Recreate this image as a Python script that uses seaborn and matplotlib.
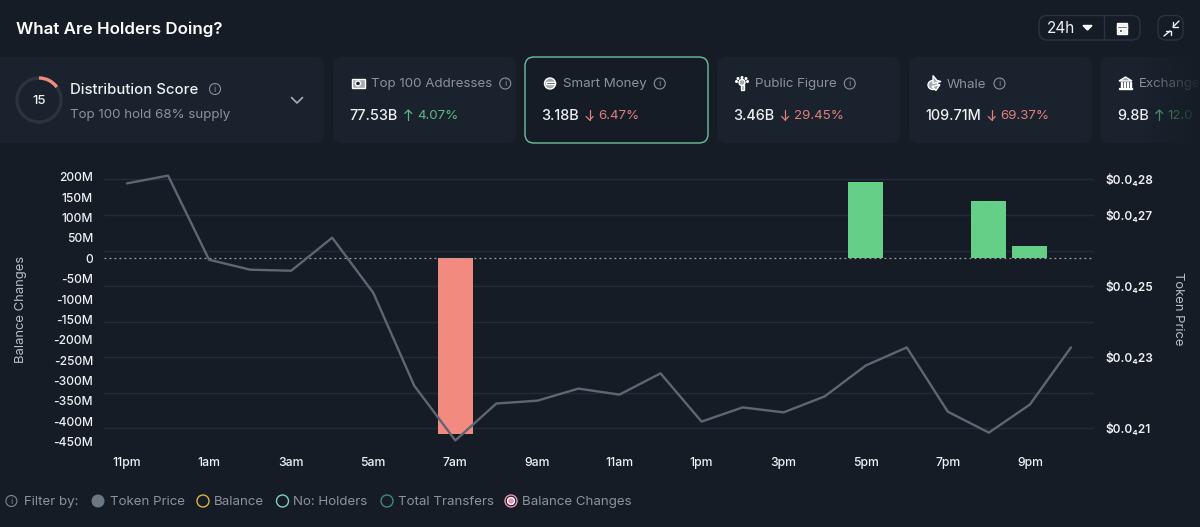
import numpy as np
import pandas as pd
import seaborn as sns
import matplotlib
matplotlib.use("Agg")
import matplotlib.pyplot as plt
from matplotlib.patches import FancyBboxPatch, Rectangle, Circle, Arc, Polygon, Ellipse

# ---------- data ----------
hours = list(range(24))
hour_labels = ["11pm", "1am", "3am", "5am", "7am", "9am", "11am", "1pm", "3pm", "5pm", "7pm", "9pm"]
price = [0.2789, 0.2811, 0.2574, 0.2546, 0.2543, 0.2636, 0.2481, 0.2219, 0.2065, 0.2169,
         0.2177, 0.2211, 0.2194, 0.2254, 0.2118, 0.2158, 0.2144, 0.2189, 0.2276, 0.2327,
         0.2146, 0.2087, 0.2166, 0.2327]
balance_change = [0, 0, 0, 0, 0, 0, 0, 0, -431, 0, 0, 0, 0, 0, 0, 0, 0, 0, 187, 0, 0, 140, 30, 0]
left_ticks = [200, 150, 100, 50, 0, -50, -100, -150, -200, -250, -300, -350, -400, -450]
price_ticks = [0.21, 0.22, 0.23, 0.24, 0.25, 0.26, 0.27, 0.28]
price_labels = ["$0.0₄21", "", "$0.0₄23", "", "$0.0₄25", "", "$0.0₄27", "$0.0₄28"]
cards = [
    ("Top 100 Addresses", "77.53B", "4.07%", True),
    ("Smart Money", "3.18B", "6.47%", False),
    ("Public Figure", "3.46B", "29.45%", False),
    ("Whale", "109.71M", "69.37%", False),
    ("Exchange", "9.8B", "12.0", True),
]
filters = ["Token Price", "Balance", "No: Holders", "Total Transfers", "Balance Changes"]

# ---------- style ----------
BG = "#151c26"; CARD = "#19222d"; GRID = "#1f2c3b"; WHITE = "#eef0f2"; MUTED = "#8b929b"
GREEN = "#66cf87"; RED = "#f28a80"; LINE = "#5d6671"; ICON = "#a5abb2"
sns.set_theme(style="dark", rc={"figure.facecolor": BG, "axes.facecolor": "none", "savefig.facecolor": BG})
plt.rcParams["font.family"] = ["Inter", "DejaVu Sans"]

W, H = 1200, 527
fig = plt.figure(figsize=(W / 100, H / 100), dpi=100)
ui = fig.add_axes([0, 0, 1, 1], zorder=0)
ui.set_xlim(0, W); ui.set_ylim(H, 0); ui.axis("off")

def box(x0, y0, x1, y1, r=8, fc=CARD, ec="none", lw=1, **kw):
    p = FancyBboxPatch((x0 + r, y0 + r), x1 - x0 - 2 * r, y1 - y0 - 2 * r,
                       boxstyle=f"round,pad={r},rounding_size={r}", fc=fc, ec=ec, lw=lw, **kw)
    ui.add_patch(p); return p

def info(x, y, c=MUTED, r=5.5):
    ui.add_patch(Circle((x, y), r, fc="none", ec=c, lw=0.8))
    ui.text(x, y + 0.3, "i", color=c, fontsize=6.5, ha="center", va="center")

def arrow(x, y, up, c):
    d = -1 if up else 1
    ui.plot([x, x], [y - 5 * d, y + 5 * d], color=c, lw=0.9)
    ui.plot([x - 3.5, x, x + 3.5], [y + 1.5 * d, y + 5 * d, y + 1.5 * d], color=c, lw=0.9)

def icon(i, x, y):
    if i == 0:      # banknotes
        ui.add_patch(Rectangle((x - 6.5, y - 4.5), 13, 9, fc=ICON))
        ui.add_patch(Circle((x, y), 2.5, fc=CARD))
    elif i == 1:    # face with sunglasses
        ui.add_patch(Circle((x, y), 5.5, fc=ICON))
        ui.add_patch(Rectangle((x - 4.5, y - 2), 9, 2.6, fc=BG))
    elif i == 2:    # person with rays
        ui.add_patch(Circle((x, y - 1), 3, fc=ICON))
        ui.add_patch(Rectangle((x - 1.5, y + 1), 3, 5, fc=ICON))
        for dx, dy in [(-5.5, -2), (-4, -5), (0, -6), (4, -5), (5.5, -2)]:
            ui.add_patch(Circle((x + dx, y + dy), 0.8, fc=ICON))
    elif i == 3:    # whale
        ui.add_patch(Ellipse((x - 1, y + 1.5), 10, 9, fc=ICON))
        ui.add_patch(Polygon([[x - 1, y - 8], [x + 3, y - 3], [x + 7, y - 2], [x - 1, y]], fc=ICON))
        ui.add_patch(Polygon([[x + 6, y + 1], [x + 2, y + 7], [x - 2, y + 3]], fc=ICON))
    else:           # bank
        ui.add_patch(Polygon([[x - 6.5, y - 2.5], [x, y - 6.5], [x + 6.5, y - 2.5]], fc=ICON))
        for dx in (-4.5, -1.3, 1.8, 4.5):
            ui.add_patch(Rectangle((x + dx - 0.5, y - 1.5), 1.1, 5, fc=ICON))
        ui.add_patch(Rectangle((x - 6.5, y + 4.5), 13, 1.3, fc=ICON))

# header
ui.text(16, 29, "What Are Holders Doing?", color="white", fontsize=12.2, fontweight=600, va="center")
box(1039, 15.5, 1140, 40, r=8, fc=BG, ec="#2a3440")
ui.plot([1103.5, 1103.5], [15.5, 40], color="#2a3440", lw=1)
ui.text(1047, 28.5, "24h", color=WHITE, fontsize=11, va="center")
ui.add_patch(Polygon([[1083, 25.5], [1092, 25.5], [1087.5, 30]], fc=WHITE))
ui.add_patch(Rectangle((1116.5, 23), 10.5, 10.5, fc=WHITE))
ui.add_patch(Rectangle((1116.5, 26.3), 10.5, 1.2, fc=BG, zorder=3))
ui.add_patch(Rectangle((1118.5, 29), 3, 2.5, fc=BG, zorder=3))
box(1158, 15.5, 1183, 40, r=8, fc=BG, ec="#2a3440")
ui.plot([1164, 1170], [36, 31], color=WHITE, lw=1)
ui.plot([1166, 1170.5, 1170.5], [30.5, 30.5, 35], color=WHITE, lw=1)
ui.plot([1179, 1173], [21, 27], color=WHITE, lw=1)
ui.plot([1173, 1173, 1178], [22, 27, 27], color=WHITE, lw=1)

# distribution card
box(-10, 57, 324, 143, r=9)
ui.add_patch(Circle((39, 100), 22, fc="none", ec="#2b333d", lw=2.4))
ui.add_patch(Arc((39, 100), 44, 44, theta1=-90, theta2=-36, color=RED, lw=2.4))
ui.text(39, 100.5, "15", color=WHITE, fontsize=9.5, fontweight=500, ha="center", va="center")
ui.text(70.5, 90, "Distribution Score", color=WHITE, fontsize=10.7, fontweight=500, va="center")
info(215, 89)
ui.text(70.5, 115, "Top 100 hold 68% supply", color=MUTED, fontsize=9.6, va="center")
ui.plot([291.5, 297, 302.5], [97.5, 103, 97.5], color="#a9aeb4", lw=1.2)

# metric cards
card_x = [333, 525, 717, 909, 1100.5]
for i, (x0, (name, val, pct, up)) in enumerate(zip(card_x, cards)):
    sel = i == 1
    box(x0, 57, x0 + 183, 143, r=9, fc=BG if sel else CARD, ec="#6fbf9c" if sel else "none", lw=1)
    c = "#5fb87c" if up else "#e07f79"
    n = ui.text(x0 + 38, 84.5, name, color=MUTED, fontsize=9.6, va="center")
    icon(i, x0 + 25, 83.5)
    t = ui.text(x0 + 16.5, 116, val, color=WHITE, fontsize=10.4, fontweight=500, va="center")
    fig.canvas.draw()
    ax_ = t.get_window_extent().x1 + 10.5
    arrow(ax_, 115, up, c)
    ui.text(ax_ + 8.5, 116, pct, color=c, fontsize=9.6, va="center")
    if i < 4:
        info(n.get_window_extent().x1 + 13, 83.5)
# exchange fade
grad = np.zeros((1, 60, 4))
grad[..., :3] = matplotlib.colors.to_rgb(BG)
grad[..., 3] = np.linspace(0, 0.95, 60)
ui.imshow(grad, extent=(1142, 1200, 143, 57), aspect="auto", zorder=5)
ui.set_xlim(0, W); ui.set_ylim(H, 0)

# ---------- chart ----------
AX_L, AX_R, AX_T, AX_B = 104, 1094, 170, 446
X0, DX = 127, 41.04
Y_ZERO, PX50 = 258.3, 20.35
P_28, PX01 = 179.5, 35.5
df = pd.DataFrame({"hour": hours, "change": balance_change, "price": price})
df["dir"] = np.where(df["change"] < 0, "down", "up")

rect = [AX_L / W, 1 - AX_B / H, (AX_R - AX_L) / W, (AX_B - AX_T) / H]
ax = fig.add_axes(rect, zorder=2)   # bars and balance axis
pr = ax.twinx(); pr.set_zorder(1)   # price grid and labels
ln = ax.twinx(); ln.set_zorder(3)   # price line

sns.barplot(data=df, x="hour", y="change", hue="dir", palette={"up": GREEN, "down": RED},
            native_scale=True, dodge=False, width=0.85, legend=False, saturation=1,
            linewidth=0, edgecolor="none", ax=ax)
sns.lineplot(data=df, x="hour", y="price", color=LINE, lw=1.7, ax=ln)

ax.set_xlim((AX_L - X0) / DX, (AX_R - X0) / DX)
ax.set_ylim((Y_ZERO - AX_B) / PX50 * 50, (Y_ZERO - AX_T) / PX50 * 50)
plim = (0.28 - (AX_B - P_28) / PX01 * 0.01, 0.28 + (P_28 - AX_T) / PX01 * 0.01)
for a in (pr, ln):
    a.set_ylim(plim)
ax.axhline(0, color="#9aa1a8", lw=0.9, ls=(0, (1.5, 2.5)), zorder=4)

ax.set_xticks(hours[::2])
ax.set_xticklabels(hour_labels, color=WHITE, fontsize=8.8, fontweight=500)
ax.set_yticks(left_ticks)
ax.set_yticklabels([f"{v}M" if v else "0" for v in left_ticks], color=WHITE, fontsize=8.7, fontweight=500)
ax.tick_params(axis="x", length=0, pad=8)
ax.tick_params(axis="y", length=0, pad=8)
ax.set_xlabel(""); ax.set_ylabel("")
ax.grid(False)

pr.set_yticks(price_ticks)
pr.set_yticklabels(price_labels, color=WHITE, fontsize=8.5, fontweight=600)
pr.tick_params(axis="y", length=0, pad=8)
pr.grid(True, axis="y", color=GRID, lw=1); pr.grid(False, axis="x")
pr.set_ylabel("")
ln.set_yticks([]); ln.set_ylabel(""); ln.grid(False)
for a in (ax, pr, ln):
    for s in a.spines.values():
        s.set_visible(False)

ui.text(21, 309, "Balance Changes", color="#b9bec4", fontsize=9.4, rotation=90, ha="center", va="center")
ui.text(1178, 309, "Token Price", color="#b9bec4", fontsize=9.4, rotation=270, ha="center", va="center")

# ---------- filter row ----------
info(11.4, 501, c="#7f8790", r=5.5)
ui.text(24, 502, "Filter by:", color=MUTED, fontsize=9.6, va="center")
f_x = [98, 203, 282.5, 387, 511]
f_t = [109.5, 213.5, 293, 398, 522]
f_c = ["#6d7683", "#d9b44a", "#7fd0c0", "#3f8a7d", "#e98fb0"]
for i, (fx, tx, c, name) in enumerate(zip(f_x, f_t, f_c, filters)):
    ui.add_patch(Circle((fx, 501), 6.5 if i == 0 else 6, fc=c if i == 0 else "none", ec=c, lw=0 if i == 0 else 1))
    if i == 4:
        ui.add_patch(Circle((fx, 501), 3.5, fc=c))
    ui.text(tx, 502, name, color=MUTED, fontsize=9.6, va="center")

fig.savefig("out.png", dpi=100)
